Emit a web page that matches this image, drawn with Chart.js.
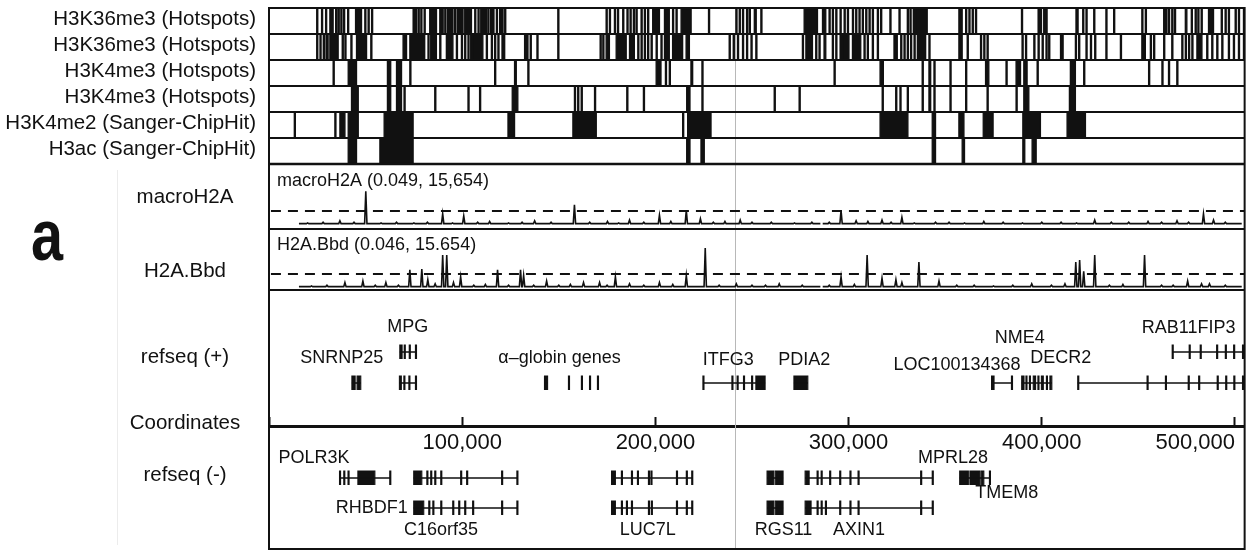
<!DOCTYPE html>
<html>
<head>
<meta charset="utf-8">
<script src="https://cdn.jsdelivr.net/npm/chart.js@4.4.1/dist/chart.umd.min.js"></script>
<style>
  html, body { margin: 0; padding: 0; background: #fff; }
  #wrap { width: 1250px; height: 553px; }
</style>
</head>
<body>
<div id="wrap"><canvas id="myChart" width="1250" height="553"></canvas></div>
<script>
// genomic positions in kb
const xMin = 0, xMax = 505;
const tickValues = [0, 100, 200, 300, 400, 500];

const hotspotLabels = ["H3K36me3 (Hotspots)", "H3K36me3 (Hotspots)", "H3K4me3 (Hotspots)",
  "H3K4me3 (Hotspots)", "H3K4me2 (Sanger-ChipHit)", "H3ac (Sanger-ChipHit)"];

// a number is a thin hit, a pair is a wider block
const h3k36me3A = [24.7, 27.2, 29.3, [31.5, 33.2], 34.5, 35.8, 37.2, 38.6, 40.7, [44.8, 47.9], 49.6, 51.3, 53.1,
  74.6, 75.8, 77.2, 78.6, 80.3, [83.2, 86.7], 88.4, 89.6, 91.0, 92.4, 93.5, 94.7, 96.1, 97.5, 98.7, 99.9,
  [101.3, 104.8], 106.5, 108.2, 109.6, 110.8, 112.0, 113.3, 114.7, 115.9, 117.7, 119.4, 120.6, 122.0, 149.5,
  174.5, 176.2, 178.8, 180.4, 183.1, 185.3, 186.9, 188.6, 190.0, 192.6, 194.3, 196.0, [198.6, 202.1],
  [204.7, 207.2], 208.9, 210.7, [213.3, 218.5], 227.5, 241.7, 243.4, 245.1, 247.2, 248.6, [251.2, 252.2], 254.6,
  [277.0, 283.9], [286.5, 288.2], 289.9, 291.6, 293.4, 295.6, 297.7, 299.4, 302.0, 303.7, 305.4, 307.1, 308.9,
  310.6, 312.3, 314.9, 316.6, 321.4, 326.1, 330.4, 331.8, 333.5, [334.7, 340.7], [357.1, 358.8], 360.6, 362.3,
  364.0, 365.7, 389.5, 398.1, 399.3, 401.0, 402.2, [417.7, 418.8], 421.2, 422.9, 426.9, 433.2, 437.2, 451.8,
  453.6, 463.1, 464.2, 465.6, 467.3, 468.7, [474.3, 475.1], 477.4, 479.4, 480.8, 482.5, [486.3, 488.9], 492.9,
  494.9, 496.6, 500.1, 501.8, 504.4];
const h3k36me3B = [24.7, 26.4, 28.1, [29.5, 30.6], [31.5, 35.8], 37.9, 39.3, 42.4, [45.3, 50.5], 52.7,
  [69.4, 71.2], [72.9, 80.6], 82.3, 83.7, 84.9, 86.1, 88.4, [91.8, 95.2], 97.0, 99.6, 101.3, 103.0, 104.4,
  [105.6, 110.7], 112.5, 115.1, 116.8, 118.5, [120.6, 122.0], 132.3, 133.5, 135.2, 138.7, 149.5, 171.4, 172.8,
  [174.5, 176.2], [179.7, 184.9], [186.6, 189.1], 190.9, 192.6, 194.3, 196.0, 197.8, 200.4, 202.9,
  [204.7, 207.2], [208.9, 214.1], [215.9, 217.6], 238.2, 240.3, 242.5, 245.1, 247.2, 249.5, 252.0, 276.1,
  [277.9, 281.3], 283.0, 284.7, [287.3, 288.2], 291.6, 293.4, 295.6, [296.8, 300.2], [302.0, 306.3], 308.0,
  309.7, 312.3, 314.9, [323.5, 325.2], 327.0, 328.7, 330.4, 332.1, 333.9, [335.6, 339.9], 341.6,
  [357.1, 358.8], 361.4, 368.3, 370.0, 371.7, 389.8, 391.6, 395.9, 398.1, 400.2, 402.2, 403.6, 409.7, 410.5,
  417.4, 419.1, 422.9, 425.2, 427.4, 433.2, 440.7, [451.8, 453.6], 456.2, 457.9, 463.1, 467.3, 472.5, 474.3,
  476.0, 477.7, [480.3, 482.9], 485.4, 488.0, 490.6, 493.2, 496.6, 499.2, 501.8, 504.4];
const h3k4me3A = [33.2, [41.0, 45.3], [61.3, 63.0], [66.0, 68.6], 72.9, 116.8, [127.1, 128.0], 134.0,
  [200.4, 202.9], 205.2, 207.2, [218.4, 219.3], 224.1, 292.5, [316.3, 318.0], 338.1, [341.6, 342.5], 344.2,
  352.5, 360.6, [370.9, 372.6], 381.5, [386.7, 389.0], [390.7, 392.4], 397.6, [414.8, 417.4], 421.7, 455.3,
  462.2, 465.6, 469.9];
const h3k4me3B = [[42.7, 46.2], [61.3, 63.0], [66.0, 68.6], 69.9, 85.8, 103.0, 109.0, [125.9, 128.8], 158.1,
  159.8, 161.6, 168.5, 185.2, 193.8, [216.2, 217.9], 224.1, 261.5, 274.4, 317.4, 324.4, 326.6, 330.4, 338.1,
  [341.6, 342.5], 344.2, 352.5, 360.6, 371.7, 386.7, [390.7, 393.3], [414.3, 417.4]];
const h3k4me2 = [13.1, 34.1, [36.7, 39.3], [41.0, 46.2], [59.6, 74.6], [123.7, 127.1], [157.3, 169.4], 214.1,
  [216.7, 228.8], [316.3, 330.7], [343.3, 345.0], [357.1, 359.7], [369.7, 374.8], [390.2, 399.3],
  [413.1, 422.6]];
const h3ac = [[41.0, 45.3], [57.4, 74.6], [216.2, 217.9], [223.6, 225.3], [343.3, 345.0], [358.8, 360.0],
  [390.2, 391.2], [395.0, 397.1]];

// signal tracks: covered stretches and peaks [kb, height in threshold units]
const macroSpan = [[15.5, 285.4], [286.6, 503.5]];
const macroPeaks = [[20.0, 0.15], [28.0, 0.2], [36.7, 0.3], [44.0, 0.2], [50.1, 2.4], [58.0, 0.15], [66.0, 0.2],
  [75.0, 0.15], [82.0, 0.2], [89.9, 0.8], [95.0, 0.15], [100.8, 0.65], [108.0, 0.2], [114.2, 0.25],
  [124.0, 0.15], [131.0, 0.2], [137.5, 0.3], [146.0, 0.2], [158.1, 1.45], [166.0, 0.2], [175.2, 0.25],
  [181.0, 0.15], [186.6, 0.35], [194.0, 0.2], [202.1, 0.7], [208.0, 0.25], [216.0, 1.05], [223.3, 0.45],
  [230.0, 0.2], [236.0, 0.25], [243.9, 0.35], [250.0, 0.2], [260.0, 0.2], [272.0, 0.15], [281.0, 0.2],
  [290.0, 0.2], [296.1, 1.05], [303.9, 0.3], [310.0, 0.25], [317.3, 0.35], [322.0, 0.2], [327.6, 0.55],
  [334.0, 0.15], [345.0, 0.2], [352.0, 0.2], [360.0, 0.15], [370.0, 0.25], [380.0, 0.2], [390.0, 0.15],
  [400.0, 0.2], [410.0, 0.2], [418.0, 0.15], [427.4, 0.35], [436.0, 0.2], [445.0, 0.2], [455.0, 0.25],
  [462.0, 0.2], [470.0, 0.3], [476.0, 0.2], [483.7, 0.8], [488.9, 0.35], [495.0, 0.2]];
const bbdSpan = [[15.5, 285.4], [286.6, 503.5]];
const bbdPeaks = [[22.0, 0.15], [30.0, 0.2], [39.3, 0.4], [48.6, 0.5], [55.0, 0.2], [60.5, 0.4], [67.0, 0.2],
  [72.9, 1.3], [79.1, 1.35], [82.2, 0.6], [86.0, 0.3], [89.9, 2.35], [92.0, 2.35], [95.5, 0.4], [99.2, 0.8],
  [106.0, 0.2], [112.0, 0.25], [118.3, 1.3], [124.0, 0.2], [130.2, 1.3], [131.8, 0.9], [137.0, 0.2],
  [143.7, 0.5], [150.0, 0.2], [156.0, 0.25], [162.8, 0.4], [171.1, 0.4], [175.0, 0.2], [179.3, 0.8],
  [186.6, 0.3], [194.0, 0.2], [202.1, 0.4], [209.0, 0.25], [216.0, 0.9], [225.8, 2.85], [233.0, 0.2],
  [241.9, 0.3], [250.0, 0.2], [257.0, 0.2], [264.1, 0.3], [276.0, 0.2], [290.0, 0.2], [296.1, 0.8],
  [303.0, 0.25], [309.6, 2.35], [317.3, 0.7], [324.5, 0.6], [327.6, 0.4], [336.4, 1.85], [346.8, 0.5],
  [356.0, 0.2], [365.0, 0.2], [375.0, 0.15], [385.0, 0.2], [394.8, 0.3], [405.0, 0.2], [412.0, 0.3],
  [417.6, 1.85], [419.6, 2.0], [421.7, 1.2], [427.4, 2.35], [435.0, 0.2], [442.0, 0.25], [453.2, 2.35],
  [462.0, 0.2], [468.0, 0.2], [475.5, 0.5], [482.7, 0.3], [486.8, 0.3], [495.0, 0.2]];

// refseq transcripts: span and exons
const plusTop = [
  { span: [67.7, 76.3], exons: [[67.7, 68.9], 70.0, 72.6, 75.8] },
  { span: [467.5, 505], exons: [467.5, 476.3, 482.0, 490.5, 495.0, 499.3, 503.9] }
];
const plusBottom = [
  { span: [42.9, 47.5], exons: [[42.9, 44.6], [45.6, 47.5]] },
  { span: [67.5, 76.3], exons: [[67.5, 68.5], 69.8, 72.4, 75.8] },
  { span: [142.6, 144.2], exons: [[142.6, 144.2]] },
  { span: [155.0, 155.0], exons: [155.0, 161.7, 165.9, 170.0] },
  { span: [224.6, 256.8], exons: [224.6, 239.6, 242.3, 245.6, 249.8, [252.0, 256.8]] },
  { span: [271.7, 278.9], exons: [[271.7, 278.9]] },
  { span: [374.0, 384.8], exons: [[374.0, 375.3], 384.3] },
  { span: [389.6, 405.2], exons: [[389.6, 390.8], 391.8, 393.6, [395.6, 396.8], 398.0, [399.8, 400.8], 402.4, [404.2, 405.2]] },
  { span: [418.6, 505], exons: [418.6, 454.5, 464.0, 475.8, 481.2, 490.8, 495.2, 499.4, 503.9] }
];
const minusTop = [
  { span: [36.5, 62.9], exons: [36.5, 38.7, 40.9, [46.0, 54.8], 62.5] },
  { span: [74.9, 128.7], exons: [[74.9, 79.1], 81.7, 83.7, 85.8, 88.9, 99.2, 102.3, 120.4, 128.3] },
  { span: [177.3, 219.1], exons: [[177.3, 179.3], 182.4, 187.6, 190.7, 196.4, 197.7, 210.9, 216.0, 218.8] },
  { span: [257.8, 266.1], exons: [[257.8, 261.2], [262.0, 266.1]] },
  { span: [277.5, 343.7], exons: [[277.5, 279.6], 283.7, 285.8, 290.2, 295.4, 300.7, 304.9, 337.3, 343.3] },
  { span: [357.5, 373.4], exons: [[357.5, 362.0], [362.8, 368.0], [368.7, 370.0], 372.9] }
];
const minusBottom = [
  { span: [74.9, 128.7], exons: [[74.9, 80.1], 82.7, 84.8, 88.9, 95.1, 98.2, 101.3, 105.4, 120.4, 128.3] },
  { span: [177.3, 219.1], exons: [[177.3, 179.3], 182.4, 185.0, 187.6, 196.4, 197.9, 210.9, 216.0, 218.8] },
  { span: [257.8, 266.1], exons: [[257.8, 261.2], [262.0, 266.1]] },
  { span: [277.5, 343.7], exons: [[277.5, 280.6], 283.7, 285.8, 288.0, 295.4, 300.7, 304.9, 337.3, 343.3] }
];

// gene names: [text, kb, layout row]
const geneLabels = [
  ["MPG", 71.8, 319], ["SNRNP25", 37.7, 350], ["\u03b1\u2013globin genes", 150.4, 350], ["ITFG3", 237.7, 352],
  ["PDIA2", 277.0, 352], ["LOC100134368", 356.1, 357], ["NME4", 388.6, 330], ["DECR2", 409.8, 350],
  ["RAB11FIP3", 476.0, 320], ["POLR3K", 23.3, 450], ["RHBDF1", 53.2, 500], ["C16orf35", 89.0, 522],
  ["LUC7L", 196.0, 522], ["RGS11", 266.3, 522], ["AXIN1", 305.4, 522], ["MPRL28", 354.0, 450],
  ["TMEM8", 381.9, 485]
];

// vertical layout of the tracks (y units, top = 0)
const rowEdges = [0, 26, 52, 78, 104, 130, 156];
const macroBox = [156, 221], bbdBox = [221, 282], axisLevel = 418, yMax = 541;
const macroZero = 217, bbdZero = 280, signalUnit = 14;
const geneRows = { plusTop: 344, plusBottom: 375, minusTop: 470, minusBottom: 500 };
const exonHalf = 7;
const markerKb = 241.3;

const FONT = "'Liberation Sans', Arial, sans-serif";
const INK = '#111';

function span(v) { return Array.isArray(v) ? v : [v, v + 0.55]; }

function hotspotPoints(list, top, bottom) {
  const pts = [{ x: xMin, y: bottom }];
  for (const v of list) {
    const [s, e] = span(v);
    pts.push({ x: s, y: bottom }, { x: s, y: top }, { x: e, y: top }, { x: e, y: bottom });
  }
  pts.push({ x: xMax, y: bottom });
  return pts;
}

function signalPoints(spans, peaks, zero) {
  const base = zero - 0.1 * signalUnit;
  const pts = [];
  for (const [a, b] of spans) {
    pts.push({ x: a, y: base });
    for (const [p, h] of peaks) {
      if (p <= a || p >= b) continue;
      pts.push({ x: p - 0.6, y: base }, { x: p, y: zero - h * signalUnit }, { x: p + 0.6, y: base });
    }
    pts.push({ x: b, y: base }, { x: b, y: null });
  }
  return pts;
}

function intronPoints(genes, mid) {
  const pts = [];
  for (const g of genes) pts.push({ x: g.span[0], y: mid }, { x: g.span[1], y: mid }, { x: g.span[1], y: null });
  return pts;
}

function exonPoints(genes, mid) {
  const pts = [];
  for (const g of genes) {
    for (const ex of g.exons) {
      const [s, e] = span(ex);
      pts.push({ x: s, y: mid + exonHalf }, { x: s, y: mid - exonHalf }, { x: e, y: mid - exonHalf },
        { x: e, y: mid + exonHalf }, { x: e, y: null });
    }
  }
  return pts;
}

const base = { showLine: true, pointRadius: 0, borderColor: INK, backgroundColor: INK, borderWidth: 1, tension: 0, spanGaps: false };
const datasets = [];

[h3k36me3A, h3k36me3B, h3k4me3A, h3k4me3B, h3k4me2, h3ac].forEach((list, i) => {
  datasets.push({ ...base, borderWidth: 1.3, data: hotspotPoints(list, rowEdges[i], rowEdges[i + 1]), fill: { value: rowEdges[i + 1] } });
});

datasets.push({ ...base, data: signalPoints(macroSpan, macroPeaks, macroZero), fill: false, borderWidth: 1.6 });
datasets.push({ ...base, data: signalPoints(bbdSpan, bbdPeaks, bbdZero), fill: false, borderWidth: 1.6 });
for (const zero of [macroZero, bbdZero]) {
  datasets.push({ ...base, fill: false, borderWidth: 2, borderDash: [10, 7],
    data: [{ x: xMin + 1, y: zero - signalUnit }, { x: xMax, y: zero - signalUnit }] });
}

for (const [genes, key] of [[plusTop, 'plusTop'], [plusBottom, 'plusBottom'], [minusTop, 'minusTop'], [minusBottom, 'minusBottom']]) {
  const mid = geneRows[key];
  datasets.push({ ...base, fill: false, borderWidth: 1.6, data: intronPoints(genes, mid) });
  datasets.push({ ...base, borderWidth: 1.1, data: exonPoints(genes, mid), fill: { value: mid + exonHalf } });
}

const tracksPlugin = {
  id: 'tracks',
  beforeDatasetsDraw(chart) {
    const { ctx, chartArea: a, scales: { x, y } } = chart;
    const px = Math.round(x.getPixelForValue(markerKb)) + 0.5;
    ctx.save();
    ctx.strokeStyle = '#b8b8b8';
    ctx.lineWidth = 1;
    ctx.beginPath();
    ctx.moveTo(px, a.top); ctx.lineTo(px, a.bottom);
    ctx.stroke();
    ctx.strokeStyle = '#ececec';
    ctx.beginPath();
    ctx.moveTo(117.5, y.getPixelForValue(162)); ctx.lineTo(117.5, y.getPixelForValue(537));
    ctx.stroke();
    ctx.restore();
  },
  afterDatasetsDraw(chart) {
    const { ctx, chartArea: a, scales: { y } } = chart;
    ctx.save();
    ctx.strokeStyle = INK;
    ctx.lineWidth = 2;
    ctx.strokeRect(a.left, a.top, a.right - a.left, a.bottom - a.top);
    const lines = rowEdges.slice(1).concat([macroBox[1], bbdBox[1]]);
    for (const v of lines) {
      const py = y.getPixelForValue(v);
      ctx.lineWidth = v === rowEdges[6] ? 2.6 : 2;
      ctx.beginPath();
      ctx.moveTo(a.left, py); ctx.lineTo(a.right, py);
      ctx.stroke();
    }
    ctx.restore();
  },
  afterDraw(chart) {
    const { ctx, chartArea: a, scales: { x, y } } = chart;
    ctx.save();
    ctx.fillStyle = INK;
    ctx.textBaseline = 'middle';

    // hotspot track names
    ctx.font = `20.5px ${FONT}`;
    ctx.textAlign = 'right';
    hotspotLabels.forEach((t, i) => {
      const mid = (rowEdges[i] + rowEdges[i + 1]) / 2 - 1.5;
      ctx.fillText(t, a.left - 13, y.getPixelForValue(mid));
    });

    // left column names
    ctx.textAlign = 'center';
    const side = [["macroH2A", 189], ["H2A.Bbd", 263], ["refseq (+)", 349], ["Coordinates", 415], ["refseq (-)", 467]];
    for (const [t, v] of side) ctx.fillText(t, 185, y.getPixelForValue(v));

    // panel letter, narrow bold
    ctx.save();
    ctx.translate(47, y.getPixelForValue(232));
    ctx.scale(0.8, 1);
    ctx.font = `bold 72px 'Liberation Sans Narrow', ${FONT}`;
    ctx.fillText('a', 0, 0);
    ctx.restore();

    // signal titles
    ctx.font = `18px ${FONT}`;
    ctx.textAlign = 'left';
    ctx.fillText('macroH2A (0.049, 15,654)', a.left + 8, y.getPixelForValue(173));
    ctx.fillText('H2A.Bbd (0.046, 15.654)', a.left + 8, y.getPixelForValue(237));

    // gene names
    ctx.textAlign = 'center';
    ctx.font = `18px ${FONT}`;
    for (const [t, kb, v] of geneLabels) ctx.fillText(t, x.getPixelForValue(kb), y.getPixelForValue(v));
    ctx.restore();
  }
};

new Chart(document.getElementById('myChart'), {
  type: 'line',
  data: { datasets },
  options: {
    responsive: false,
    animation: false,
    events: [],
    layout: { padding: { left: 269, right: 3, top: 8, bottom: 4 } },
    plugins: { legend: { display: false }, tooltip: { enabled: false } },
    scales: {
      x: {
        type: 'linear', min: xMin, max: xMax,
        position: { y: axisLevel },
        afterBuildTicks: s => { s.ticks = tickValues.map(v => ({ value: v })); },
        grid: { display: true, drawOnChartArea: false, drawTicks: true, tickLength: -11, tickWidth: 2, tickColor: INK },
        border: { display: true, color: INK, width: 3 },
        ticks: {
          autoSkip: false, maxRotation: 0, minRotation: 0, align: 'inner', padding: 15, color: INK,
          font: { family: FONT, size: 22 },
          callback: v => v === 0 ? '' : (v * 1000).toLocaleString('en-US')
        }
      },
      y: { type: 'linear', min: 0, max: yMax, reverse: true, display: false }
    }
  },
  plugins: [tracksPlugin]
});
</script>
</body>
</html>
